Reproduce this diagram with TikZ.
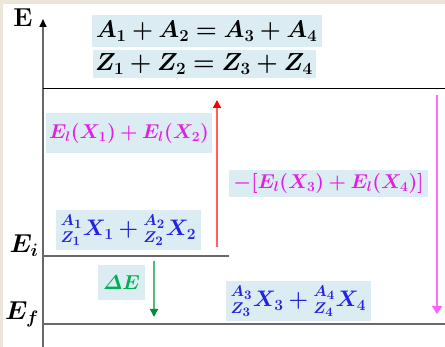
\documentclass[tikz,border=0pt]{standalone}
\usepackage{amsmath,bm}
\usepackage{graphicx}
\usetikzlibrary{arrows.meta}
\definecolor{beige}{RGB}{236,230,216}
\definecolor{boxblue}{RGB}{219,237,243}
\definecolor{magtext}{RGB}{228,30,228}
\definecolor{bluetext}{RGB}{35,35,225}
\definecolor{greentext}{RGB}{0,176,80}
\definecolor{redarrow}{RGB}{255,95,95}
\definecolor{magarrow}{RGB}{255,110,255}
\definecolor{greenarrow}{RGB}{80,190,120}
\definecolor{axisgray}{RGB}{105,105,105}
\begin{document}
\begin{tikzpicture}[x=1pt,y=-1pt,
  hbox/.style={fill=boxblue,inner sep=0pt,anchor=center},
  lvl/.style={draw=axisgray,line width=1.3pt},
  lbl/.style={inner sep=0pt,anchor=center}]
\useasboundingbox (0,0) rectangle (445,347);
\fill[beige] (0,0) rectangle (445,347);
\fill[white] (3,4) rectangle (445,347);
% axis
\coordinate (ax0) at (43,347);
\coordinate (ax1) at (43,19);
\draw[axisgray,line width=1.6pt,-{Triangle[length=8pt,width=7pt,color=black]}] (ax0) -- (ax1);
\node[lbl] (E) at (23,18) {\scalebox{1.25}{\fontsize{20.74}{22}\selectfont\textbf{E}}};
% levels
\coordinate (t0) at (43,89); \coordinate (t1) at (445,89);
\draw[black,line width=1pt] (t0) -- (t1);
\coordinate (i0) at (43,256); \coordinate (i1) at (229,256);
\draw[lvl] (i0) -- (i1);
\coordinate (f0) at (43,324); \coordinate (f1) at (445,324);
\draw[lvl] (f0) -- (f1);
\node[lbl] (Ei) at (24,246) {\scalebox{1.25}{\fontsize{20.74}{22}\selectfont$\boldsymbol{E_i}$}};
\node[lbl] (Ef) at (22,314) {\scalebox{1.25}{\fontsize{20.74}{22}\selectfont$\boldsymbol{E_f}$}};
% equations
\node[hbox,minimum width=230pt,minimum height=32pt] (eqA) at (206.5,31)
  {\scalebox{1.16}{\fontsize{20.74}{24}\selectfont$\boldsymbol{A_1+A_2=A_3+A_4}$}};
\node[hbox,minimum width=223pt,minimum height=28pt] (eqZ) at (204,64)
  {\scalebox{1.19}{\fontsize{20.74}{24}\selectfont$\boldsymbol{Z_1+Z_2=Z_3+Z_4}$}};
% binding energies
\node[hbox,minimum width=166pt,minimum height=40pt,text=magtext] (bl) at (129,133)
  {\scalebox{1.16}{\fontsize{17.28}{20}\selectfont$\boldsymbol{E_l(X_1)+E_l(X_2)}$}};
\node[hbox,minimum width=199pt,minimum height=27pt,text=magtext] (br) at (328.5,183.5)
  {\scalebox{1.16}{\fontsize{17.28}{20}\selectfont$\boldsymbol{-[E_l(X_3)+E_l(X_4)]}$}};
% nuclides
\node[hbox,minimum width=145pt,minimum height=40pt,text=bluetext] (n12) at (128.5,230)
  {\scalebox{1.3}{\fontsize{17.28}{22}\selectfont$\boldsymbol{{}^{A_1}_{Z_1}X_1+{}^{A_2}_{Z_2}X_2}$}};
\node[hbox,minimum width=145pt,minimum height=40pt,text=bluetext] (n34) at (298.5,301)
  {\scalebox{1.3}{\fontsize{17.28}{22}\selectfont$\boldsymbol{{}^{A_3}_{Z_3}X_3+{}^{A_4}_{Z_4}X_4}$}};
% Delta E
\node[hbox,minimum width=47pt,minimum height=35pt,text=greentext] (dE) at (121.5,282.5)
  {\scalebox{1.17}{\fontsize{17.28}{20}\selectfont$\boldsymbol{\varDelta E}$}};
% arrows
\coordinate (r0) at (217,247); \coordinate (r1) at (217,100);
\draw[redarrow,line width=1.5pt,-{Triangle[length=8pt,width=8pt,color=red]}] (r0) -- (r1);
\coordinate (m0) at (437,95); \coordinate (m1) at (437,314);
\draw[magarrow,line width=1.8pt,-{Triangle[length=8pt,width=10pt,color=magarrow!90!magenta]}] (m0) -- (m1);
\coordinate (g0) at (154,261); \coordinate (g1) at (154,317);
\draw[greenarrow,line width=1.4pt,-{Triangle[length=8pt,width=8pt,color=greentext!80!black]}] (g0) -- (g1);
\end{tikzpicture}
\end{document}
